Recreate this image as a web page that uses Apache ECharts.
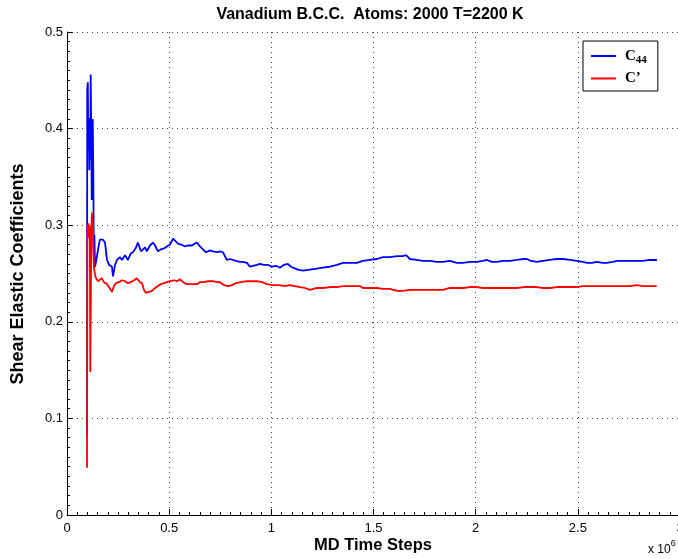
<!DOCTYPE html>
<html>
<head>
<meta charset="utf-8">
<script src="https://cdn.jsdelivr.net/npm/echarts@6/dist/echarts.min.js"></script>
<style>
  html, body { margin: 0; padding: 0; background: #fff; }
  #chart { width: 678px; height: 559px; }
</style>
</head>
<body>
<div id="chart"></div>
<script>
// Running averages of the shear elastic constants (time steps in units of 1e6)
const stepsC44 = [0.098,0.099,0.102,0.104,0.107,0.109,0.112,0.114,0.116,0.119,0.121,0.124,0.126,0.129,0.131,0.134,0.137,0.142,0.152,0.161,0.176,0.186,0.196,0.206,0.220,0.225,0.235,0.245,0.259,0.269,0.284,0.298,0.313,0.323,0.338,0.347,0.362,0.372,0.382,0.391,0.406,0.421,0.431,0.445,0.460,0.475,0.489,0.504,0.519,0.528,0.543,0.558,0.577,0.592,0.612,0.626,0.636,0.651,0.665,0.680,0.700,0.714,0.734,0.749,0.763,0.783,0.798,0.812,0.827,0.846,0.861,0.881,0.895,0.910,0.930,0.944,0.964,0.983,1.003,1.023,1.042,1.062,1.081,1.096,1.106,1.130,1.155,1.189,1.223,1.252,1.287,1.321,1.350,1.385,1.419,1.448,1.482,1.517,1.546,1.580,1.615,1.644,1.659,1.678,1.712,1.742,1.776,1.810,1.840,1.874,1.908,1.937,1.972,2.006,2.035,2.055,2.079,2.104,2.133,2.167,2.202,2.236,2.251,2.270,2.299,2.329,2.363,2.397,2.427,2.461,2.495,2.525,2.544,2.569,2.593,2.622,2.642,2.671,2.691,2.720,2.754,2.789,2.818,2.852,2.887];
const c44 = [0.082,0.440,0.448,0.378,0.411,0.357,0.401,0.368,0.456,0.388,0.326,0.378,0.410,0.347,0.270,0.290,0.257,0.262,0.275,0.285,0.285,0.282,0.264,0.259,0.257,0.247,0.259,0.264,0.267,0.264,0.269,0.264,0.271,0.272,0.277,0.282,0.273,0.275,0.277,0.273,0.279,0.282,0.279,0.273,0.275,0.276,0.278,0.280,0.286,0.284,0.281,0.280,0.278,0.279,0.279,0.281,0.282,0.278,0.275,0.272,0.274,0.273,0.272,0.273,0.272,0.264,0.265,0.264,0.263,0.262,0.262,0.261,0.257,0.258,0.259,0.260,0.259,0.259,0.257,0.258,0.256,0.259,0.260,0.257,0.256,0.254,0.253,0.254,0.255,0.256,0.257,0.259,0.261,0.261,0.261,0.263,0.264,0.265,0.267,0.267,0.268,0.268,0.269,0.265,0.264,0.263,0.263,0.262,0.262,0.263,0.261,0.261,0.262,0.262,0.263,0.264,0.262,0.262,0.263,0.263,0.264,0.265,0.265,0.263,0.262,0.263,0.264,0.265,0.265,0.264,0.263,0.262,0.261,0.261,0.262,0.261,0.261,0.262,0.263,0.263,0.263,0.263,0.263,0.264,0.264];

const stepsCp = [0.098,0.100,0.102,0.105,0.107,0.110,0.112,0.114,0.117,0.119,0.122,0.124,0.127,0.129,0.132,0.137,0.142,0.152,0.161,0.171,0.181,0.196,0.205,0.220,0.230,0.240,0.254,0.269,0.284,0.298,0.313,0.328,0.342,0.357,0.367,0.377,0.386,0.401,0.416,0.431,0.445,0.460,0.475,0.489,0.504,0.523,0.538,0.553,0.568,0.587,0.602,0.621,0.636,0.651,0.670,0.690,0.714,0.734,0.749,0.768,0.788,0.807,0.827,0.851,0.881,0.905,0.930,0.954,0.978,1.008,1.037,1.067,1.091,1.115,1.140,1.164,1.189,1.223,1.252,1.287,1.321,1.350,1.385,1.419,1.433,1.448,1.482,1.517,1.546,1.580,1.614,1.644,1.678,1.712,1.742,1.776,1.810,1.840,1.874,1.908,1.937,1.972,2.006,2.035,2.069,2.104,2.133,2.167,2.202,2.236,2.265,2.299,2.329,2.363,2.397,2.427,2.461,2.495,2.524,2.559,2.593,2.622,2.657,2.691,2.720,2.754,2.789,2.818,2.852,2.886];
const cPrime = [0.049,0.300,0.290,0.302,0.287,0.300,0.285,0.148,0.233,0.293,0.313,0.306,0.299,0.275,0.256,0.249,0.245,0.242,0.244,0.245,0.241,0.239,0.236,0.231,0.237,0.240,0.241,0.243,0.242,0.240,0.241,0.243,0.245,0.241,0.240,0.233,0.230,0.231,0.232,0.235,0.237,0.239,0.240,0.241,0.242,0.243,0.242,0.244,0.241,0.239,0.239,0.239,0.239,0.241,0.241,0.242,0.242,0.241,0.241,0.238,0.237,0.238,0.240,0.241,0.242,0.242,0.242,0.241,0.239,0.238,0.238,0.237,0.238,0.237,0.236,0.235,0.233,0.235,0.235,0.236,0.236,0.237,0.237,0.237,0.237,0.235,0.235,0.235,0.234,0.234,0.232,0.232,0.233,0.233,0.233,0.233,0.233,0.233,0.235,0.235,0.235,0.236,0.236,0.235,0.235,0.235,0.235,0.235,0.235,0.236,0.236,0.236,0.235,0.235,0.236,0.236,0.236,0.236,0.237,0.237,0.237,0.237,0.237,0.237,0.237,0.237,0.238,0.237,0.237,0.237];

const seriesNames = ['C44', 'C\u2019'];
const xTicks = [0, 0.5, 1, 1.5, 2, 2.5, 3];
const yTicks = [0, 0.1, 0.2, 0.3, 0.4, 0.5];

const pairs = (xs, ys) => xs.map((x, i) => [x, ys[i]]);

const font = '"Liberation Sans", Arial, Helvetica, sans-serif';
const serif = '"Liberation Serif", "Times New Roman", serif';

const axisCommon = {
  axisLine: { show: true, onZero: false, lineStyle: { color: '#000', width: 1 } },
  axisTick: { show: true, inside: true, length: 6, lineStyle: { color: '#000' } },
  minorTick: { show: true, splitNumber: 10, length: 3, lineStyle: { color: '#000' } },
  splitLine: { show: true, lineStyle: { color: '#444', type: [1, 4], width: 1 } },
  axisLabel: { color: '#000', fontFamily: font, fontSize: 13 }
};

const chart = echarts.init(document.getElementById('chart'), null, { renderer: 'canvas' });
chart.setOption({
  animation: false,
  backgroundColor: '#fff',
  grid: { left: 67, width: 613, top: 32, height: 483, containLabel: false, outerBoundsMode: 'none' },
  xAxis: Object.assign({}, axisCommon, {
    type: 'value', min: xTicks[0], max: xTicks[xTicks.length - 1], interval: 0.5,
    axisLabel: Object.assign({}, axisCommon.axisLabel, { margin: 7, formatter: v => String(v) })
  }),
  yAxis: Object.assign({}, axisCommon, {
    type: 'value', min: yTicks[0], max: yTicks[yTicks.length - 1], interval: 0.1,
    axisLabel: Object.assign({}, axisCommon.axisLabel, { margin: 4, formatter: v => String(v) })
  }),
  legend: {
    orient: 'vertical', left: 583, top: 41,
    data: seriesNames,
    icon: 'rect',
    backgroundColor: '#fff', borderColor: '#000', borderWidth: 1,
    padding: [5, 11, 5, 8], itemGap: 5, itemWidth: 25, itemHeight: 2,
    formatter: n => n === 'C44' ? '{b|C}{s|44}' : '{b|' + n + '}',
    textStyle: {
      color: '#000',
      rich: {
        b: { fontFamily: serif, fontSize: 15, fontWeight: 'bold', color: '#000', lineHeight: 20, padding: [0, 0, 0, 4] },
        s: { fontFamily: serif, fontSize: 11, fontWeight: 'bold', color: '#000', lineHeight: 20, padding: [9, 0, 0, 0] }
      }
    }
  },
  graphic: [
    {
      type: 'text', x: 370, y: 15,
      style: {
        text: 'Vanadium B.C.C.  Atoms: 2000 T=2200 K',
        fontFamily: font, fontSize: 16, fontWeight: 'bold', fill: '#000',
        align: 'center', verticalAlign: 'middle'
      }
    },
    {
      type: 'text', x: 373, y: 545,
      style: {
        text: 'MD Time Steps',
        fontFamily: font, fontSize: 16.5, fontWeight: 'bold', fill: '#000',
        align: 'center', verticalAlign: 'middle'
      }
    },
    {
      type: 'text', x: 18, y: 274, rotation: Math.PI / 2,
      style: {
        text: 'Shear Elastic Coefficients',
        fontFamily: font, fontSize: 18, fontWeight: 'bold', fill: '#000',
        align: 'center', verticalAlign: 'middle'
      }
    },
    {
      type: 'text', left: 648, top: 539,
      style: {
        text: '{a|x 10}{e|6}',
        rich: {
          a: { fontFamily: font, fontSize: 12, fill: '#000', padding: [6, 0, 0, 0] },
          e: { fontFamily: font, fontSize: 9, fill: '#000', padding: [0, 0, 6, 0] }
        }
      }
    }
  ],
  series: [
    {
      name: seriesNames[0], type: 'line', data: pairs(stepsC44, c44),
      showSymbol: false, symbol: 'none',
      lineStyle: { color: '#0000ff', width: 1.8 }, itemStyle: { color: '#0000ff' }
    },
    {
      name: seriesNames[1], type: 'line', data: pairs(stepsCp, cPrime),
      showSymbol: false, symbol: 'none',
      lineStyle: { color: '#ff0000', width: 1.8 }, itemStyle: { color: '#ff0000' }
    }
  ]
});
</script>
</body>
</html>
